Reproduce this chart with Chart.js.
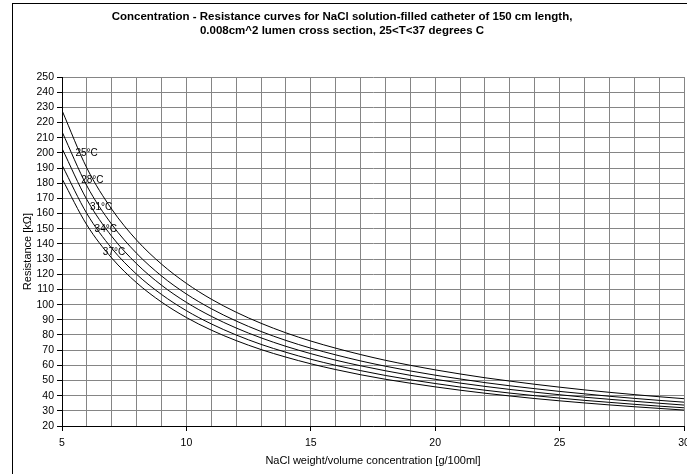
<!DOCTYPE html>
<html>
<head>
<meta charset="utf-8">
<script src="https://cdn.jsdelivr.net/npm/chart.js@4/dist/chart.umd.min.js"></script>
<style>
html,body{margin:0;padding:0;background:#fff;}
#wrap{width:687px;height:474px;position:relative;}
</style>
</head>
<body>
<div id="wrap"><canvas id="c" width="687" height="474"></canvas></div>
<script>
const concentrations = [5,6,7,8,9,10,11,12,13,14,15,16,17,18,19,20,21,22,23,24,25,26,27,28,29,30];
const r25 = [228,190,162.9,142.5,126.7,114,103.6,95,87.7,81.4,76,71.3,67.1,63.3,60,57,54.3,51.8,49.6,47.5,45.6,43.8,42.2,40.7,39.3,38];
const r28 = [214,178.3,152.9,133.8,118.9,107,97.3,89.2,82.3,76.4,71.3,66.9,62.9,59.4,56.3,53.5,51,48.6,46.5,44.6,42.8,41.2,39.6,38.2,36.9,35.7];
const r31 = [203,169.2,145,126.9,112.8,101.5,92.3,84.6,78.1,72.5,67.7,63.4,59.7,56.4,53.4,50.8,48.3,46.1,44.1,42.3,40.6,39,37.6,36.3,35,33.8];
const r34 = [192,160,137.1,120,106.7,96,87.3,80,73.8,68.6,64,60,56.5,53.3,50.5,48,45.7,43.6,41.7,40,38.4,36.9,35.6,34.3,33.1,32];
const r37 = [183,152.5,130.7,114.4,101.7,91.5,83.2,76.3,70.4,65.4,61,57.2,53.8,50.8,48.2,45.8,43.6,41.6,39.8,38.1,36.6,35.2,33.9,32.7,31.6,30.5];
const seriesNames = ['25°C','28°C','31°C','34°C','37°C'];
const curveLabelX = [5.99,6.22,6.57,6.76,7.09];
const curveLabelY = [200,182,164,150,134.5];
const titleLines = ['Concentration - Resistance curves for NaCl solution-filled catheter of 150 cm length,','0.008cm^2 lumen cross section, 25<T<37 degrees C'];
const xTitle = 'NaCl weight/volume concentration [g/100ml]';
const yTitle = 'Resistance [kΩ]';

const FONT = "'Liberation Sans', Arial, sans-serif";
const allSeries = [r25,r28,r31,r34,r37];

const datasets = allSeries.map((arr,i)=>({
  label: seriesNames[i],
  data: concentrations.map((c,j)=>({x:c,y:arr[j]})),
  borderColor:'#000',
  borderWidth:1,
  pointRadius:0,
  fill:false,
  cubicInterpolationMode:'monotone'
}));

const framePlugin = {
  id:'frame',
  beforeDraw(chart){
    const ctx=chart.ctx;
    ctx.save();
    ctx.fillStyle='#fff';
    ctx.fillRect(0,0,chart.width,chart.height);
    ctx.restore();
  },
  afterDraw(chart){
    const ctx=chart.ctx;
    ctx.save();
    ctx.strokeStyle='#000';
    ctx.lineWidth=1;
    ctx.strokeRect(12.5,3.5,700,500);
    const xs=chart.scales.x, ys=chart.scales.y;
    ctx.fillStyle='#000';
    ctx.font='10px '+FONT;
    ctx.textAlign='center';
    ctx.textBaseline='middle';
    seriesNames.forEach((n,i)=>{
      ctx.fillText(n, xs.getPixelForValue(curveLabelX[i]), ys.getPixelForValue(curveLabelY[i]));
    });
    ctx.restore();
  }
};

new Chart(document.getElementById('c'),{
  type:'line',
  data:{datasets},
  options:{
    responsive:false,
    animation:false,
    layout:{padding:{top:0,left:0,right:3,bottom:0}},
    plugins:{
      legend:{display:false},
      tooltip:{enabled:false},
      title:{
        display:true,
        text:titleLines,
        color:'#000',
        font:{family:FONT,size:11.5,weight:'bold',lineHeight:1.22},
        padding:{top:10,bottom:39}
      }
    },
    scales:{
      x:{
        type:'linear',
        min:5,max:30,
        ticks:{
          stepSize:1,
          autoSkip:false,
          maxRotation:0,
          padding:6,
          color:'#000',
          font:{family:FONT,size:10.5},
          callback:(v)=> (v%5===0? String(v):'')
        },
        grid:{
          color:'#858585',
          lineWidth:1,
          tickLength:5,
          tickColor:(ctx)=> (ctx.tick && ctx.tick.value%5===0 ? '#000':'rgba(0,0,0,0)')
        },
        border:{display:true,color:'#000',width:1},
        title:{
          display:true,
          text:xTitle,
          color:'#000',
          font:{family:FONT,size:11,lineHeight:1.2},
          padding:{top:0,bottom:6}
        },
        afterFit(scale){ scale.height=48; scale.paddingLeft=0; scale.paddingRight=0; }
      },
      y:{
        type:'linear',
        min:20,max:250,
        ticks:{
          stepSize:10,
          autoSkip:false,
          padding:3,
          color:'#000',
          font:{family:FONT,size:10.5}
        },
        grid:{
          color:'#858585',
          lineWidth:1,
          tickLength:5,
          tickColor:'#000'
        },
        border:{display:true,color:'#000',width:1},
        title:{
          display:true,
          text:yTitle,
          color:'#000',
          font:{family:FONT,size:11,lineHeight:1.2},
          padding:{top:21,bottom:0}
        },
        afterFit(scale){ scale.width=62; scale.paddingTop=0; scale.paddingBottom=0; }
      }
    }
  },
  plugins:[framePlugin]
});
</script>
</body>
</html>
